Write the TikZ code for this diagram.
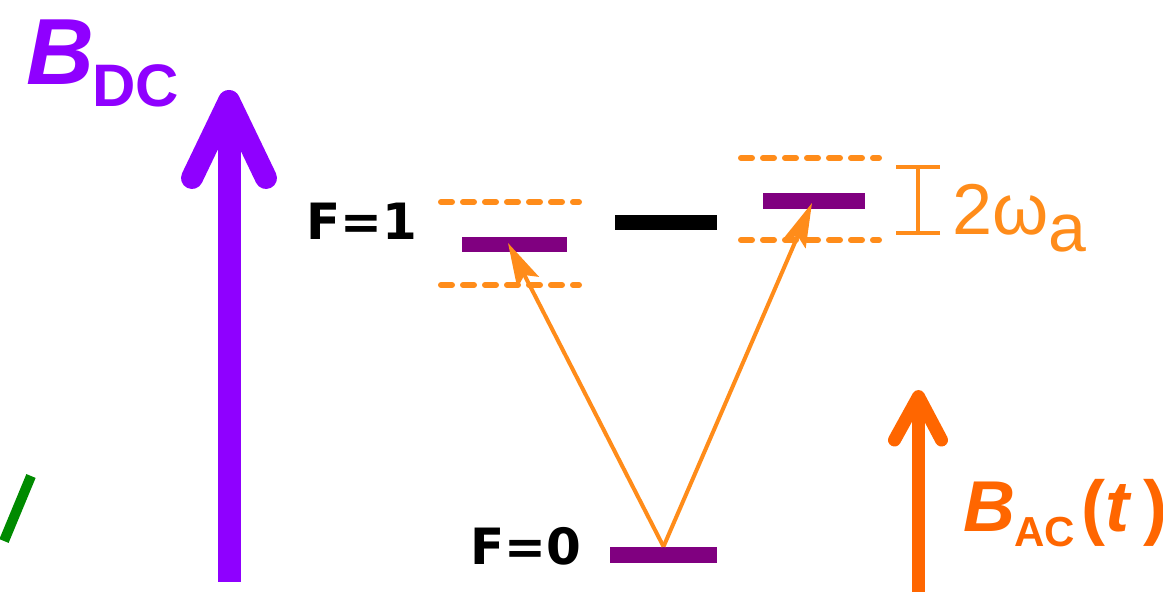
\documentclass[tikz,border=0pt]{standalone}
\usepackage{fontspec}
\setmainfont{Liberation Sans}
\newfontfamily\labelfont{DejaVu Sans}
\usetikzlibrary{arrows.meta, positioning, calc}

\definecolor{dcviolet}{HTML}{8F00FF}
\definecolor{levelpurple}{HTML}{800080}
\definecolor{acorange}{HTML}{FF6600}
\definecolor{sideorange}{HTML}{FF8C1A}
\definecolor{markgreen}{HTML}{008A00}

\begin{document}
\begin{tikzpicture}[
    x=0.5pt, y=-0.5pt,
    level/.style={fill=levelpurple, inner sep=0pt, minimum width=52pt, minimum height=7.5pt},
    flabel/.style={inner sep=0pt, anchor=base west, font=\labelfont\bfseries\fontsize{25}{25}\selectfont},
    txt/.style={inner sep=0pt, anchor=base west},
    sideband/.style={draw=sideorange, line width=3pt, line cap=round, dash pattern=on 5.5pt off 5.5pt},
    trans/.style={-{Stealth[length=22pt, width=12pt, inset=4pt]}, draw=sideorange, line width=2pt},
    field/.style={line cap=round, line join=round}
]
\useasboundingbox (0,0) rectangle (1163,592);

% hyperfine levels
\node[level, minimum width=52.5pt] (f1lo) at (514.5,244.5) {};
\node[level, fill=black, minimum width=51pt] (f1mid) at (666,222.5) {};
\node[level, minimum width=51pt, minimum height=8pt] (f1hi) at (814,201.5) {};
\node[level, minimum width=53.5pt, minimum height=8pt] (f0) at (663.5,555) {};

% sidebands
\foreach \xa/\ya in {441/202, 441/285, 741/158, 741/240}
    \draw[sideband] (\xa,\ya) -- ++(138,0);

\node[flabel] (f1lbl) at (306,240) {F=1};
\node[flabel] (f0lbl) at (470,565) {F=0};

% transitions
\draw[trans] (f0.north) -- ($(f1lo.center)+(-6.5,-1.5)$);
\draw[trans] (f0.north) -- ($(f1hi.center)+(-2,1.5)$);

% splitting
\coordinate (gaptop) at (918,165);
\coordinate (gapbot) at (918,235);
\draw[sideorange, line width=2pt, {Bar[width=22pt]}-{Bar[width=22pt]}] (gaptop) -- (gapbot);
\node[txt, text=sideorange, font=\fontsize{36}{36}\selectfont] (gaplbl) at (952,235)
    {2ω\raisebox{-8.5pt}{\fontsize{34}{34}\selectfont a}};

% static field
\coordinate (dcbase) at (229,582);
\coordinate (dctip) at (229,101);
\draw[dcviolet, line width=11.5pt] (dcbase) -- (dctip);
\draw[dcviolet, line width=11pt, field] (192,178) -- (dctip) -- (266,178);
\node[txt, text=dcviolet, font=\bfseries\itshape\fontsize{47}{47}\selectfont] (bdc) at (26,85) {B};
\node[txt, text=dcviolet, font=\bfseries\fontsize{30}{30}\selectfont] (bdcsub) at (92,107) {DC};

% driving field
\coordinate (acbase) at (918.5,592);
\coordinate (actip) at (918.5,396.5);
\draw[acorange, line width=6.5pt] (acbase) -- (actip);
\draw[acorange, line width=6.5pt, field] (894.5,440) -- (actip) -- (941.5,440);
\node[txt, text=acorange, font=\bfseries\itshape\fontsize{36}{36}\selectfont] (bac) at (963,532) {B};
\node[txt, text=acorange, font=\bfseries\fontsize{21}{21}\selectfont] (bacsub) at (1014,547) {AC};
\node[txt, text=acorange, font=\bfseries\fontsize{36}{36}\selectfont] (bact) at (1081,532) {(\textit{t}\hspace{6pt})};

\draw[markgreen, line width=5pt] (4,541) -- (31,476);
\end{tikzpicture}
\end{document}
